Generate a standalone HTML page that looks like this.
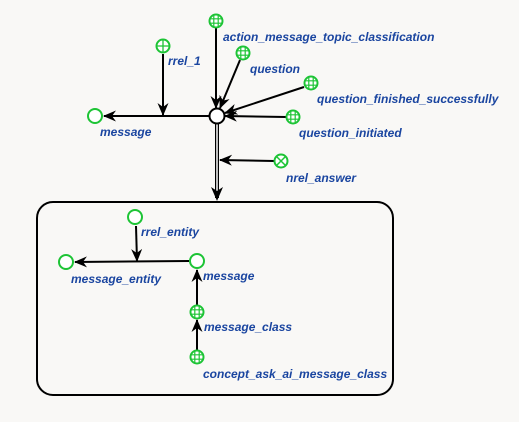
<!DOCTYPE html>
<html><head><meta charset="utf-8"><style>
html,body{margin:0;padding:0;background:#f9f8f6;}
svg{display:block}
text{font-family:"Liberation Sans","DejaVu Sans",sans-serif;font-weight:bold;font-style:italic;font-size:12px;fill:#1a45a0;}
</style></head><body>
<svg width="519" height="422" viewBox="0 0 519 422" xmlns="http://www.w3.org/2000/svg">
<defs>
<marker id="a" viewBox="0 0 13 11" refX="12" refY="5.5" markerWidth="13" markerHeight="11" markerUnits="userSpaceOnUse" orient="auto">
<path d="M0,0 L13,5.5 L0,11 L4,5.5 Z" fill="#000"/>
</marker>
<g id="grid">
<circle r="6.5" fill="#fff" stroke="#1dc435" stroke-width="2"/>
<path d="M-2.2,-6 V6 M2.2,-6 V6 M-6,-2.2 H6 M-6,2.2 H6" stroke="#1dc435" stroke-width="1.2"/>
</g>
</defs>
<rect x="37" y="202" width="356" height="193" rx="16" fill="none" stroke="#000" stroke-width="2"/>

<line x1="209" y1="116" x2="104" y2="116" stroke="#000" stroke-width="2" marker-end="url(#a)"/>
<line x1="163" y1="54" x2="163" y2="115" stroke="#000" stroke-width="2" marker-end="url(#a)"/>
<line x1="216" y1="28" x2="216" y2="108" stroke="#000" stroke-width="2" marker-end="url(#a)"/>
<line x1="240" y1="60" x2="220" y2="108" stroke="#000" stroke-width="2" marker-end="url(#a)"/>
<line x1="304" y1="87" x2="225" y2="113" stroke="#000" stroke-width="2" marker-end="url(#a)"/>
<line x1="286" y1="117" x2="225" y2="116" stroke="#000" stroke-width="2" marker-end="url(#a)"/>
<line x1="274" y1="161" x2="220" y2="160" stroke="#000" stroke-width="2" marker-end="url(#a)"/>
<line x1="217" y1="124" x2="217" y2="198" stroke="#000" stroke-width="4"/>
<line x1="217" y1="124" x2="217" y2="198" stroke="#fff" stroke-width="1.5"/>
<path d="M211,187 L217,201 L223,187 L217,191 Z" fill="#000"/>

<circle cx="217" cy="116" r="7.5" fill="#fff" stroke="#000" stroke-width="2"/>
<circle cx="95" cy="116" r="7" fill="#fff" stroke="#1dc435" stroke-width="2"/>
<g transform="translate(163,46)"><circle r="6.5" fill="#fff" stroke="#1dc435" stroke-width="2"/><path d="M0,-6 V6 M-6,0 H6" stroke="#1dc435" stroke-width="1.3"/></g>
<use href="#grid" x="216" y="21"/>
<use href="#grid" x="243" y="53"/>
<use href="#grid" x="311" y="83"/>
<use href="#grid" x="293" y="117"/>
<g transform="translate(281,161)"><circle r="6.5" fill="#fff" stroke="#1dc435" stroke-width="2"/><path d="M-4,-4 L4,4 M-4,4 L4,-4" stroke="#1dc435" stroke-width="1.5"/></g>

<text x="168" y="65">rrel_1</text>
<text x="223" y="41">action_message_topic_classification</text>
<text x="250" y="73">question</text>
<text x="317" y="103">question_finished_successfully</text>
<text x="299" y="137">question_initiated</text>
<text x="100" y="136">message</text>
<text x="286" y="182">nrel_answer</text>

<line x1="189" y1="261" x2="75" y2="262" stroke="#000" stroke-width="2" marker-end="url(#a)"/>
<line x1="136" y1="226" x2="137" y2="261" stroke="#000" stroke-width="2" marker-end="url(#a)"/>
<line x1="197" y1="305" x2="197" y2="270" stroke="#000" stroke-width="2" marker-end="url(#a)"/>
<line x1="197" y1="350" x2="197" y2="320" stroke="#000" stroke-width="2" marker-end="url(#a)"/>
<circle cx="135" cy="217" r="7" fill="#fff" stroke="#1dc435" stroke-width="2"/>
<circle cx="66" cy="262" r="7" fill="#fff" stroke="#1dc435" stroke-width="2"/>
<circle cx="197" cy="261" r="7" fill="#fff" stroke="#1dc435" stroke-width="2"/>
<use href="#grid" x="197" y="312"/>
<use href="#grid" x="197" y="357"/>

<text x="141" y="236">rrel_entity</text>
<text x="71" y="283">message_entity</text>
<text x="203" y="280">message</text>
<text x="204" y="331">message_class</text>
<text x="203" y="378">concept_ask_ai_message_class</text>
</svg>
</body></html>
